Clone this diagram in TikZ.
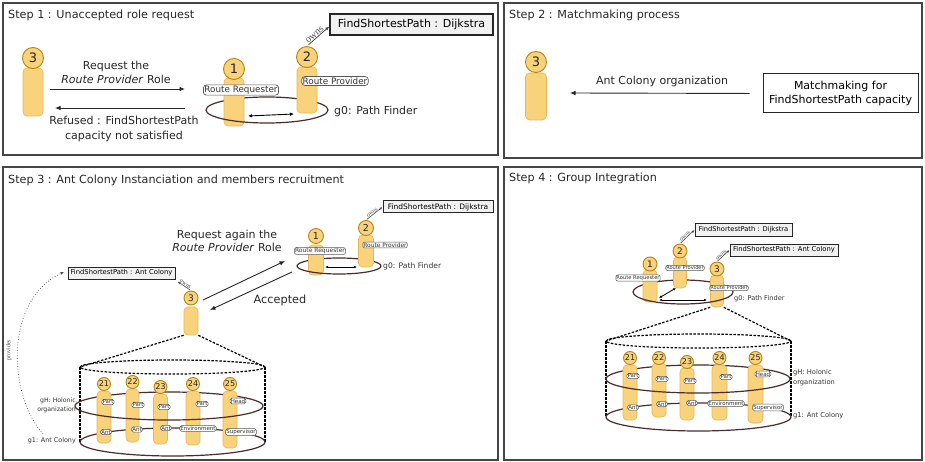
\documentclass[tikz,border=0pt]{standalone}
\usepackage{fontspec}
\setmainfont{DejaVu Sans}
\newfontfamily\owfont{Liberation Serif}
\usetikzlibrary{arrows.meta}
\definecolor{agfill}{HTML}{F9D27C}
\definecolor{agline}{HTML}{E6B65A}
\definecolor{hdline}{HTML}{B5850F}
\definecolor{ringc}{HTML}{4B2B2B}
\definecolor{capfill}{HTML}{F1F1F1}
\definecolor{framec}{HTML}{454545}
\newcommand\fsz[2]{\fontsize{#1}{#2}\selectfont}
% name, x, head y, head diameter, body width, body top, body bottom, number, font size
\newcommand\agent[9]{%
  \node[agbody, minimum width=#5pt, minimum height={(#7-#6)*1pt}] (#1b) at (#2,{(#6+#7)/2}) {};
  \node[aghead, minimum size=#4pt, font=\fsz{#9}{#9}] (#1h) at (#2,#3) {#8};}
% cx, cy, rx, ry
\newcommand\ringback[4]{\draw[ringline] ({#1+#3},#2) arc[start angle=0,end angle=180,x radius=#3pt,y radius=#4pt];}
\newcommand\ringfront[4]{\draw[ringline] ({#1-#3},#2) arc[start angle=180,end angle=360,x radius=#3pt,y radius=#4pt];}
\tikzset{
  panelbox/.style={draw=framec, line width=1.5pt},
  ttl/.style={anchor=west, inner sep=0pt, font=\fsz{11.2}{13}, text=black!85},
  agbody/.style={draw=agline, fill=agfill, rounded corners=4pt, line width=0.6pt, inner sep=0pt},
  aghead/.style={circle, draw=hdline, fill=agfill, line width=0.9pt, inner sep=0pt, text=black!85},
  rolebig/.style={draw=black!65, fill=white, rounded corners=3pt, inner sep=1pt, line width=0.7pt, font=\fsz{8.8}{9}, text=black!80},
  rolesm/.style={draw=black!65, fill=white, rounded corners=2pt, inner sep=0.6pt, line width=0.5pt, text=black!80},
  holo/.style={draw=black!65, fill=white, rounded corners=1.8pt, inner sep=0.7pt, line width=0.5pt, font=\fsz{5.5}{6}, text=black!80},
  capbig/.style={draw=black!85, fill=capfill, line width=1.4pt, inner sep=0pt, font=\fsz{11}{12}},
  capsm/.style={draw=black!85, fill=capfill, line width=1pt, inner sep=0pt},
  ringline/.style={draw=ringc, line width=1.2pt},
  msg/.style={-{Latex[length=5.5pt,width=4.5pt]}, line width=0.9pt, draw=black!85},
  dbl/.style={{Latex[length=4pt,width=3.5pt]}-{Latex[length=4pt,width=3.5pt]}, line width=0.9pt},
  dblsm/.style={{Latex[length=3pt,width=2.6pt]}-{Latex[length=3pt,width=2.6pt]}, line width=0.8pt},
  own/.style={-{Latex[length=4pt,width=3.5pt]}, line width=0.8pt, draw=black!70},
  ownsm/.style={-{Latex[length=3pt,width=2.6pt]}, line width=0.6pt, draw=black!70},
  owntxt/.style={font=\owfont\fsz{10}{10}, text=black!70, inner sep=0.5pt},
  owntxtsm/.style={font=\owfont\fsz{6}{6}, text=black!70, inner sep=0.3pt},
  txt/.style={font=\fsz{11}{12}, text=black!85, inner sep=0pt},
  cone/.style={line width=1.2pt, dash pattern=on 2.5pt off 1.5pt},
  gtxt/.style={text=black!80, inner sep=0pt}
}
\begin{document}
\begin{tikzpicture}[x=1pt,y=-1pt]
\useasboundingbox (0,0) rectangle (925,462);
% ---------------- panels
\draw[panelbox] (3,3) rectangle (498,155);
\draw[panelbox] (504,3) rectangle (922,158);
\draw[panelbox] (3,167) rectangle (498,460);
\draw[panelbox] (504,167) rectangle (922,460);
\node[ttl] (t1) at (8,15) {Step 1 : Unaccepted role request};
\node[ttl] (t2) at (509,15) {Step 2 : Matchmaking process};
\node[ttl] (t3) at (8,180) {Step 3 : Ant Colony Instanciation and members recruitment};
\node[ttl] (t4) at (509,178) {Step 4 : Group Integration};

% ================= STEP 1
\ringback{267}{110}{61}{13}
\agent{sa}{33}{58}{21}{20}{68}{116}{3}{13}
\agent{sb}{234}{69}{21}{20}{78}{126}{1}{13}
\agent{sc}{307}{57}{21}{20}{67}{113}{2}{13}
\ringfront{267}{110}{61}{13}
\node[rolebig] (sbr) at (241,90) {Route Requester};
\node[rolebig] (scr) at (335,81) {Route Provider};
\coordinate (sd1) at (248,116);
\coordinate (sd2) at (294,114);
\draw[dbl] (sd1) -- (sd2);
\node[txt, anchor=west, font=\fsz{10.9}{12}] (sg0) at (334,111) {g0: Path Finder};
\node[capbig, minimum width=163pt, minimum height=21pt] (scap) at (411.5,24.5) {FindShortestPath : Dijkstra};
\draw[own, shorten <=2pt] (sch.north) -- ([yshift=-2pt]scap.west) node[pos=0.45, sloped, above, owntxt] {owns};
\coordinate (sm1a) at (50,89);
\coordinate (sm1b) at (185,89);
\coordinate (sm2a) at (185,108);
\coordinate (sm2b) at (55,108);
\draw[msg] (sm1a) -- (sm1b);
\draw[msg] (sm2a) -- (sm2b);
\node[txt, align=center, font=\fsz{11}{13.5}] (sreq) at (116,72.5) {Request the\\\textit{Route Provider} Role};
\node[txt, align=center, font=\fsz{11}{15}] (sref) at (124,129) {Refused : FindShortestPath\\capacity not satisfied};

% ================= STEP 2
\agent{ma}{536}{62}{21}{21}{73}{120}{3}{13}
\node[draw=black!85, line width=1pt, align=center, font=\fsz{11}{14}, minimum width=155pt, minimum height=39pt, inner sep=0pt] (mbox) at (840.5,93.5) {Matchmaking for\\FindShortestPath capacity};
\coordinate (mend) at (570,93);
\draw[msg, shorten <=13pt] (mbox.west) -- (mend);
\node[txt] (mtxt) at (662,81) {Ant Colony organization};

% ================= STEP 3
% g0 group
\ringback{339}{266}{42}{8}
\agent{pa}{316}{236}{15}{15}{245}{275}{1}{9.5}
\agent{pb}{366}{228}{15}{15}{235}{267}{2}{9.5}
\ringfront{339}{266}{42}{8}
\node[rolesm, font=\fsz{6}{6.5}] (par) at (320,251) {Route Requester};
\node[rolesm, font=\fsz{5.9}{6.5}] (pbr) at (385,245) {Route Provider};
\coordinate (pd1) at (325,267);
\coordinate (pd2) at (357,267);
\draw[dblsm] (pd1) -- (pd2);
\node[gtxt, anchor=west, font=\fsz{7.6}{8}] (pg0) at (383,266) {g0: Path Finder};
\node[capsm, minimum width=110pt, minimum height=12pt, font=\fsz{7.5}{8}] (pdj) at (438,207) {FindShortestPath : Dijkstra};
\draw[ownsm, shorten <=1pt] (pbh.north) -- (pdj.west) node[pos=0.45, sloped, above, owntxtsm] {owns};
% agent 3
\agent{pc}{191}{298}{14}{14}{307}{335}{3}{9}
\node[capsm, minimum width=107pt, minimum height=12pt, font=\fsz{6.8}{7.5}] (pac) at (121.5,273) {FindShortestPath : Ant Colony};
\draw[ownsm, shorten <=1pt] (pch.north) -- ([xshift=2pt,yshift=-2pt]pac.south east) node[pos=0.5, sloped, above, owntxtsm] {owns};
\coordinate (pm1a) at (203,300);
\coordinate (pm1b) at (285,261);
\coordinate (pm2a) at (292,272);
\coordinate (pm2b) at (210,310);
\draw[msg] (pm1a) -- (pm1b);
\draw[msg] (pm2a) -- (pm2b);
\node[txt, align=center, font=\fsz{11}{13}] (preq) at (227,240.5) {Request again the\\\textit{Route Provider} Role};
\node[txt, font=\fsz{11.3}{12}] (pacc) at (280,300) {Accepted};
% cylinder
\coordinate (pcl) at (80,367);
\coordinate (pcr) at (265,367);
\coordinate (pbl) at (80,442);
\coordinate (pbr) at (265,442);
\draw[cone] (pcb.south west) -- (pcl);
\draw[cone] (pcb.south east) -- (pcr);
\draw[cone] (172.5,367) ellipse [x radius=92.5pt, y radius=7pt];
\draw[cone] (pcl) -- (pbl);
\draw[cone] (pcr) -- (pbr);
\ringback{169}{406}{94}{14}
\ringback{172.5}{442}{92.5}{14}
\agent{h1}{104}{384}{13}{14}{391}{443}{21}{8}
\agent{h2}{132.5}{382}{13}{13}{389}{442}{22}{8}
\agent{h3}{160.5}{387}{13}{14}{394}{444}{23}{8}
\agent{h4}{193}{384}{13}{14}{391}{445}{24}{8}
\agent{h5}{230}{384}{13}{14}{391}{448}{25}{8}
\ringfront{169}{406}{94}{14}
\ringfront{172.5}{442}{92.5}{14}
\node[holo] (h1p) at (108,402) {Part};
\node[holo] (h2p) at (138,405) {Part};
\node[holo] (h3p) at (164,407) {Part};
\node[holo] (h4p) at (202,404) {Part};
\node[holo] (h5p) at (238,401) {Head};
\node[holo] (h1a) at (106,432) {Ant};
\node[holo] (h2a) at (137,429.5) {Ant};
\node[holo] (h3a) at (166,428) {Ant};
\node[holo] (h4a) at (198,428.5) {Environment};
\node[holo] (h5a) at (241,432) {Supervisor};
\node[gtxt, anchor=east, align=right, font=\fsz{6.2}{9}] (pgh) at (76,405) {gH: Holonic\\organization};
\node[gtxt, anchor=east, font=\fsz{6.4}{7}] (pg1) at (76,441) {g1: Ant Colony};
\coordinate (pvs) at (43,434);
\coordinate (pve) at (64,272);
\draw[dotted, line width=0.7pt, black!70, -{Latex[length=3.5pt,width=3pt]}] (pvs) .. controls (8,395) and (4,300) .. (pve);
\node[gtxt, rotate=90, font=\owfont\fsz{6}{6}, text=black!70] (pprov) at (9,350) {provides};

% ================= STEP 4
\node[capsm, minimum width=97pt, minimum height=12pt, font=\fsz{6.7}{7.5}] (qdj) at (743.5,230) {FindShortestPath : Dijkstra};
\node[capsm, minimum width=108pt, minimum height=12pt, font=\fsz{6.8}{7.5}] (qac) at (784,250) {FindShortestPath : Ant Colony};
\ringback{683}{292}{50}{12}
\agent{qb}{680}{251}{14}{13}{257}{288}{2}{9}
\agent{qa}{650}{264}{14}{14}{270}{302}{1}{9}
\agent{qc}{717}{269}{14}{13}{275}{307}{3}{9}
\ringfront{683}{292}{50}{12}
\node[rolesm, font=\fsz{5.2}{6}] (qar) at (638,278) {Route Requester};
\node[rolesm, font=\fsz{5.1}{6}] (qbr) at (685,268) {Route Provider};
\node[rolesm, font=\fsz{5.1}{6}] (qcr) at (729,288) {Route Provider};
\coordinate (qd1) at (659,298);
\coordinate (qd2) at (676,288);
\coordinate (qd3) at (659,300);
\coordinate (qd4) at (707,300);
\draw[dblsm] (qd1) -- (qd2);
\draw[dblsm] (qd3) -- (qd4);
\node[gtxt, anchor=west, font=\fsz{6.6}{7}] (qg0) at (734,299) {g0: Path Finder};
\draw[ownsm, shorten <=1pt] (qbh.north) -- (qdj.west) node[pos=0.45, sloped, above, owntxtsm] {owns};
\draw[ownsm, shorten <=1pt] (qch.north) -- (qac.west) node[pos=0.45, sloped, above, owntxtsm] {owns};
% cylinder
\coordinate (qcl) at (606,341);
\coordinate (qcr) at (791,341);
\coordinate (qbl) at (606,417);
\coordinate (qbrr) at (791,417);
\draw[cone] (qcb.south west) -- (qcl);
\draw[cone] (qcb.south east) -- (qcr);
\draw[cone] (698.5,341) ellipse [x radius=92.5pt, y radius=7pt];
\draw[cone] (qcl) -- (qbl);
\draw[cone] (qcr) -- (qbrr);
\ringback{698}{379}{92}{14}
\ringback{698.5}{417}{92.5}{14}
\agent{k1}{630}{358}{13}{14}{365}{420}{21}{8}
\agent{k2}{659}{358}{13}{14}{363}{417}{22}{8}
\agent{k3}{687}{362}{13}{14}{368}{420}{23}{8}
\agent{k4}{719.5}{358}{13}{15}{365}{420}{24}{8}
\agent{k5}{755.5}{358}{13}{15}{365}{423}{25}{8}
\ringfront{698}{379}{92}{14}
\ringfront{698.5}{417}{92.5}{14}
\node[holo] (k1p) at (633,376) {Part};
\node[holo] (k2p) at (662,379) {Part};
\node[holo] (k3p) at (690,381) {Part};
\node[holo] (k4p) at (726,377) {Part};
\node[holo] (k5p) at (763,374) {Head};
\node[holo] (k1a) at (633,407.5) {Ant};
\node[holo] (k2a) at (662,404) {Ant};
\node[holo] (k3a) at (692,403) {Ant};
\node[holo] (k4a) at (726,403.5) {Environment};
\node[holo] (k5a) at (768,407.5) {Supervisor};
\node[gtxt, anchor=west, align=left, font=\fsz{6.7}{10}] (qgh) at (793,378) {gH: Holonic\\organization};
\node[gtxt, anchor=west, font=\fsz{6.7}{7}] (qg1) at (793,416) {g1: Ant Colony};
\end{tikzpicture}
\end{document}
